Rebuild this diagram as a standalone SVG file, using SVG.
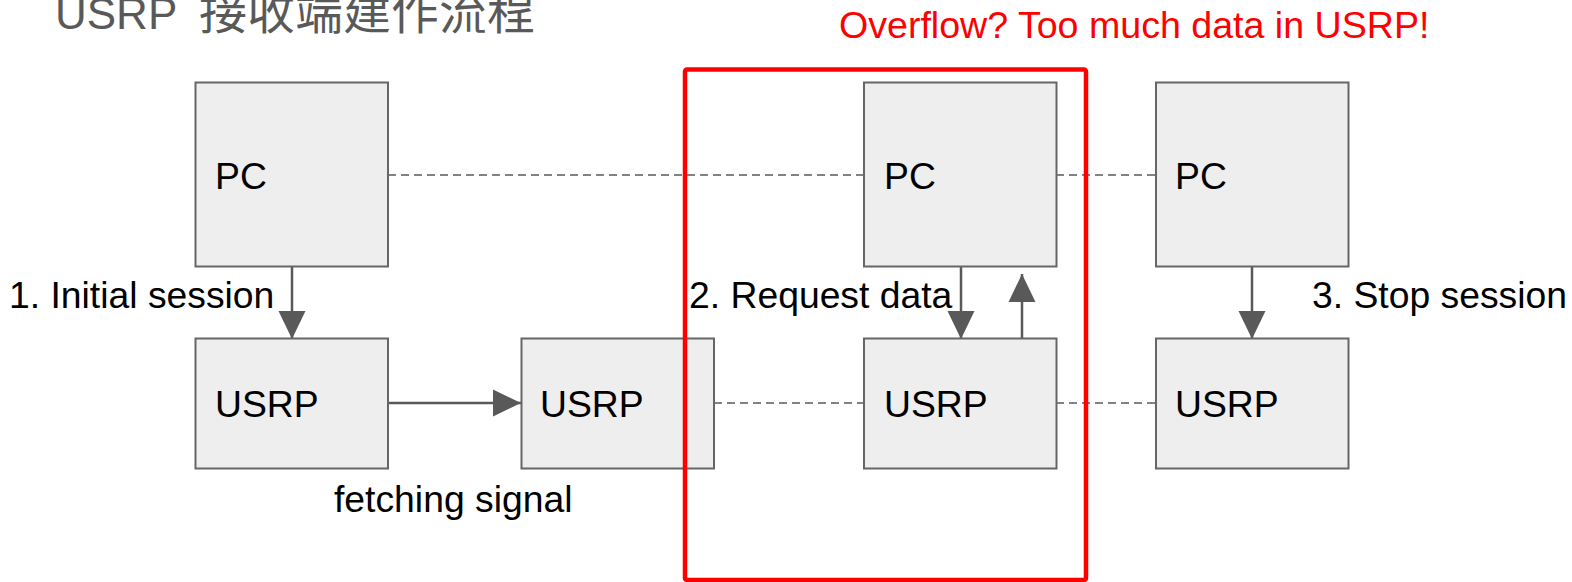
<svg xmlns="http://www.w3.org/2000/svg" width="1572" height="582" viewBox="0 0 1572 582">
  <style>
    .box { fill: #eeeeee; stroke: #666666; stroke-width: 2; }
    .lbl { font-family: "Liberation Sans", Arial, sans-serif; font-size: 37.3px; fill: #000000; }
    .dash { stroke: #595959; stroke-width: 1.6; stroke-dasharray: 8 5; fill: none; }
    .arrow { stroke: #595959; stroke-width: 2.5; fill: none; }
  </style>
  <defs>
    <marker id="ah" markerUnits="userSpaceOnUse" markerWidth="28" markerHeight="28" viewBox="0 0 27 26" refX="27" refY="13" orient="auto">
      <path d="M0,0 L27,13 L0,26 Z" fill="#595959"/>
    </marker>
  </defs>
  <rect width="1572" height="582" fill="#ffffff"/>

  <text x="55" y="29" font-family="'Liberation Sans', 'Noto Sans CJK TC', sans-serif" font-size="44" fill="#595959">USRP<tspan x="199" font-size="48" font-family="'Noto Sans CJK TC', sans-serif">接收端建作流程</tspan></text>

  <text x="839" y="38" class="lbl" style="fill:#ff0000;font-size:37.6px">Overflow? Too much data in USRP!</text>

  <g id="connectors">
    <line class="dash" x1="388" y1="175" x2="864" y2="175"/>
    <line class="dash" x1="1056" y1="175" x2="1156" y2="175"/>
    <line class="dash" x1="714" y1="403" x2="864" y2="403"/>
    <line class="dash" x1="1056" y1="403" x2="1156" y2="403"/>
    <line class="arrow" x1="292" y1="266" x2="292" y2="339" marker-end="url(#ah)"/>
    <line class="arrow" x1="388" y1="403" x2="521" y2="403" marker-end="url(#ah)"/>
    <line class="arrow" x1="961" y1="266" x2="961" y2="339" marker-end="url(#ah)"/>
    <line class="arrow" x1="1022" y1="342" x2="1022" y2="274" marker-end="url(#ah)"/>
    <line class="arrow" x1="1252" y1="266" x2="1252" y2="339" marker-end="url(#ah)"/>
  </g>

  <g id="pc1"><rect class="box" x="195.5" y="82.5" width="192.5" height="184"/><text class="lbl" x="215" y="189">PC</text></g>
  <g id="usrp1"><rect class="box" x="195.5" y="338.5" width="192.5" height="130"/><text class="lbl" x="215" y="417">USRP</text></g>
  <g id="usrp2"><rect class="box" x="521.5" y="338.5" width="192.5" height="130"/><text class="lbl" x="540" y="417">USRP</text></g>
  <g id="pc2"><rect class="box" x="864" y="82.5" width="192.5" height="184"/><text class="lbl" x="884" y="189">PC</text></g>
  <g id="usrp3"><rect class="box" x="864" y="338.5" width="192.5" height="130"/><text class="lbl" x="884" y="417">USRP</text></g>
  <g id="pc3"><rect class="box" x="1156" y="82.5" width="192.5" height="184"/><text class="lbl" x="1175" y="189">PC</text></g>
  <g id="usrp4"><rect class="box" x="1156" y="338.5" width="192.5" height="130"/><text class="lbl" x="1175" y="417">USRP</text></g>

  <text class="lbl" x="9" y="308">1. Initial session</text>
  <text class="lbl" x="689" y="308">2. Request data</text>
  <text class="lbl" x="1312" y="308">3. Stop session</text>
  <text class="lbl" x="334" y="512">fetching signal</text>

  <rect id="overflow-box" x="685" y="69.5" width="401" height="510.5" rx="2" fill="none" stroke="#ff0000" stroke-width="4.5"/>
</svg>
